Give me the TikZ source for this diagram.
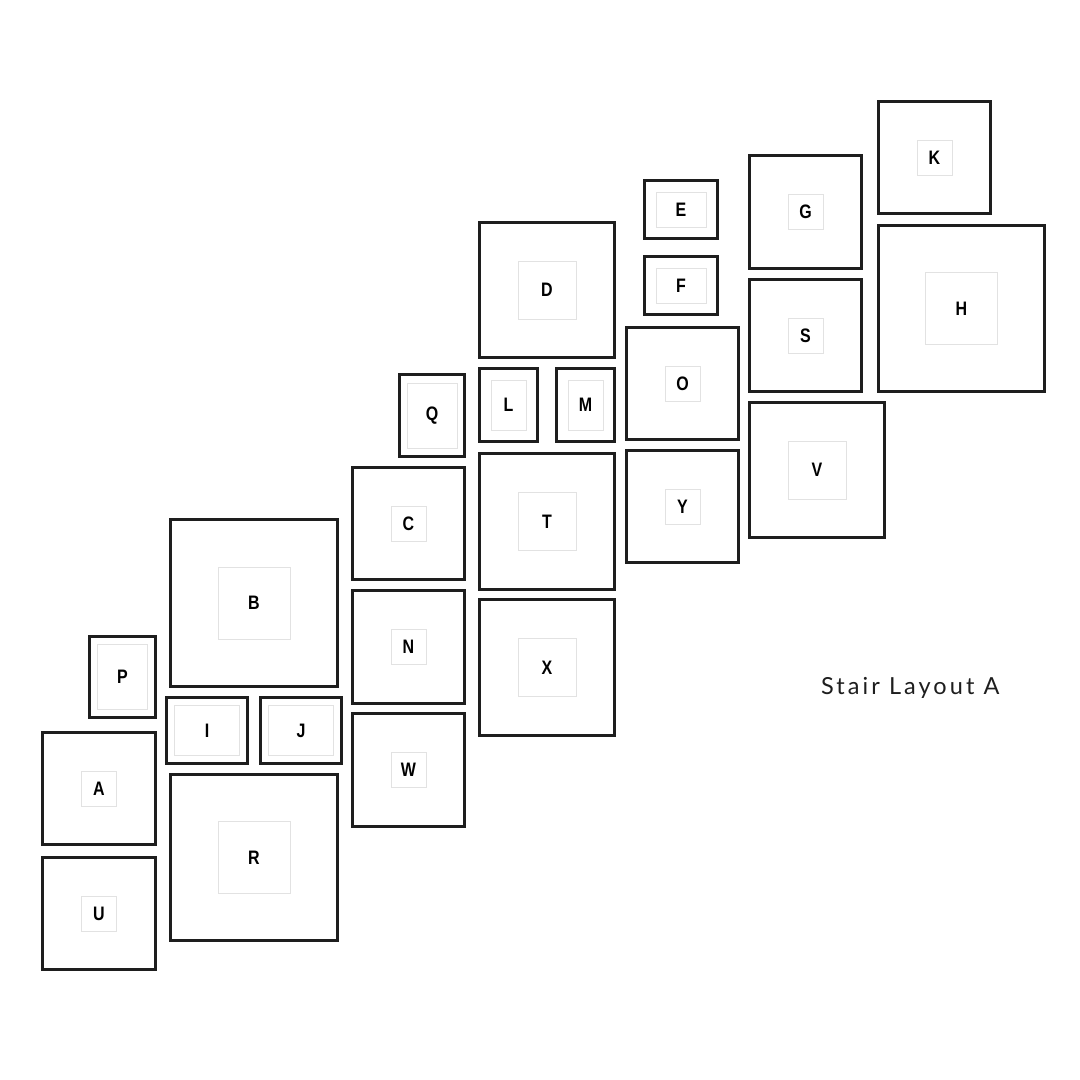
\documentclass[tikz,border=0pt]{standalone}
\usepackage{fontspec}
\newfontfamily\labfont[FakeStretch=0.82]{Liberation Sans Bold}
\newfontfamily\titlefont[LetterSpace=13]{Lato}
\definecolor{framecol}{HTML}{1E1E1E}
\definecolor{matcol}{HTML}{E2E2E2}
\newcommand\artframe[8]{%
  \node[framebox, minimum width=#4, minimum height=#5] (#1) at (#2,#3) {};
  \node[matbox, minimum width=#6, minimum height=#7] (#1m) at (#1) {\raisebox{-1.5pt}{\labfont #8}};
}
\begin{document}
\begin{tikzpicture}[x=1pt,y=-1pt,
  framebox/.style={draw=framecol, line width=3pt, rectangle, inner sep=0pt, outer sep=0pt},
  matbox/.style={draw=matcol, line width=1pt, rectangle, inner sep=0pt, outer sep=0pt, font=\fontsize{19.5}{19.5}\selectfont, text=black},
  titlestyle/.style={font=\fontsize{23.5}{23.5}\selectfont\titlefont, text=framecol, inner sep=0pt, anchor=base west}]
\useasboundingbox[fill=white] (0,0) rectangle (1080,1080);
\artframe{P}{122.5}{677}{66}{81}{50}{65}{P}
\artframe{A}{99}{788.5}{113}{112}{35}{35}{A}
\artframe{U}{99}{913.5}{113}{112}{35}{35}{U}
\artframe{B}{254}{603}{167}{167}{72}{72}{B}
\artframe{I}{207}{730.5}{81}{66}{65}{50}{I}
\artframe{J}{301}{730.5}{81}{66}{65}{50}{J}
\artframe{R}{254}{857.5}{167}{166}{72}{72}{R}
\artframe{Q}{432}{415.5}{65}{82}{50}{65}{Q}
\artframe{C}{408.5}{523.5}{112}{112}{35}{35}{C}
\artframe{N}{408.5}{647}{112}{113}{35}{35}{N}
\artframe{W}{408.5}{770}{112}{113}{35}{35}{W}
\artframe{L}{508.5}{405}{58}{73}{35}{50}{L}
\artframe{M}{585.5}{405}{58}{73}{35}{50}{M}
\artframe{D}{547}{290}{135}{135}{58}{58}{D}
\artframe{T}{547}{521.5}{135}{136}{58}{58}{T}
\artframe{X}{547}{667.5}{135}{136}{58}{58}{X}
\artframe{E}{681}{209.5}{73}{58}{50}{35}{E}
\artframe{F}{681}{285.5}{73}{58}{50}{35}{F}
\artframe{O}{682.5}{383.5}{112}{112}{35}{35}{O}
\artframe{Y}{682.5}{506.5}{112}{112}{35}{35}{Y}
\artframe{G}{805.5}{212}{112}{113}{35}{35}{G}
\artframe{S}{805.5}{335.5}{112}{112}{35}{35}{S}
\artframe{V}{817}{470}{135}{135}{58}{58}{V}
\artframe{K}{934.5}{157.5}{112}{112}{35}{35}{K}
\artframe{H}{961.5}{308.5}{166}{166}{72}{72}{H}
\node[titlestyle] (title) at (821,694) {Stair Layout A};
\end{tikzpicture}
\end{document}
